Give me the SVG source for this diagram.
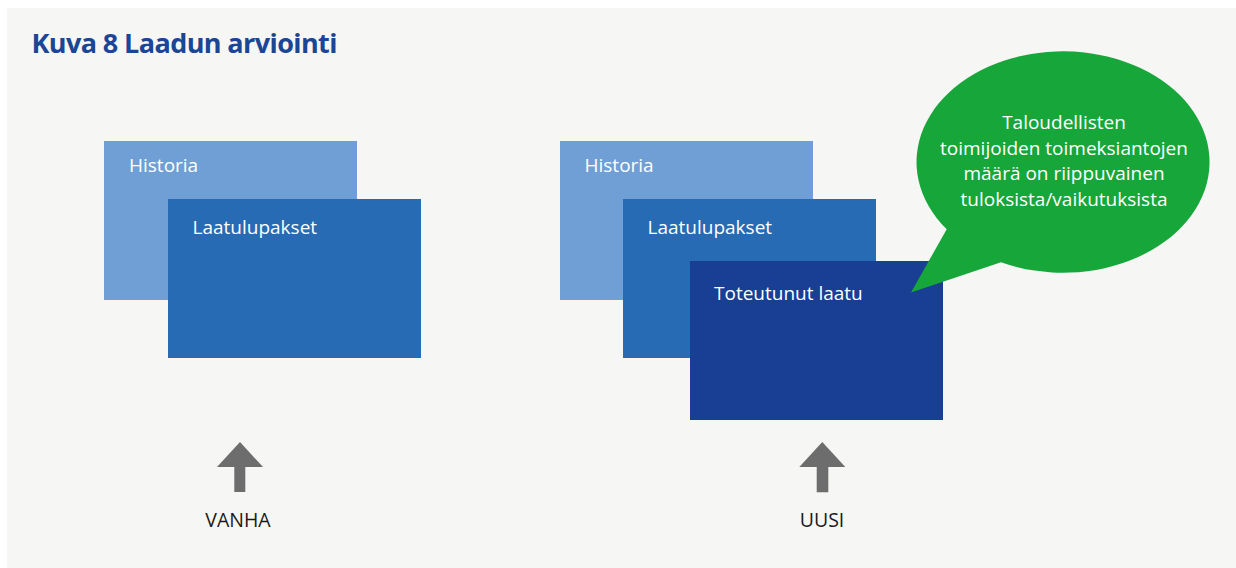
<svg xmlns="http://www.w3.org/2000/svg" width="1236" height="568" viewBox="0 0 1236 568">
<style>
.lbl{font-family:"Open Sans","Noto Sans",sans-serif;font-size:19px;fill:#ffffff}
.cap{font-family:"Open Sans","Noto Sans",sans-serif;font-size:19.5px;fill:#1a1a1a;text-anchor:middle}
.arrow{fill:#6d6d6d}
.b1{fill:#6f9fd4}
.b2{fill:#276bb4}
.b3{fill:#183f94}
</style>
<rect x="7" y="8" width="1229" height="560" fill="#f6f6f4"/>
<text x="31.5" y="52.5" font-family="Open Sans, Noto Sans, sans-serif" font-weight="bold" font-size="27" letter-spacing="-0.6" fill="#1b4595">Kuva 8 Laadun arviointi</text>
<g id="old-historia"><rect class="b1" x="104" y="141" width="253" height="159"/><text class="lbl" x="129" y="172">Historia</text></g>
<g id="old-laatulupakset"><rect class="b2" x="168" y="199" width="253" height="159"/><text class="lbl" x="192.5" y="234">Laatulupakset</text></g>
<g id="new-historia"><rect class="b1" x="560" y="141" width="253" height="159"/><text class="lbl" x="584.5" y="172">Historia</text></g>
<g id="new-laatulupakset"><rect class="b2" x="623" y="199" width="253" height="159"/><text class="lbl" x="647.5" y="234">Laatulupakset</text></g>
<g id="toteutunut"><rect class="b3" x="690" y="261" width="253" height="159"/><text class="lbl" x="714" y="300">Toteutunut laatu</text></g>
<g id="bubble">
<path fill="#17a63a" d="M946.7,229.3 L911,292.5 L1001,262.3 A146.5,110.7 0 1 0 946.7,229.3 Z"/>
<text class="lbl" text-anchor="middle" x="1064"><tspan x="1064" y="129">Taloudellisten</tspan><tspan x="1064" y="154.5">toimijoiden toimeksiantojen</tspan><tspan x="1064" y="180">määrä on riippuvainen</tspan><tspan x="1064" y="205.5">tuloksista/vaikutuksista</tspan></text>
</g>
<g id="connectors">
<path class="arrow" d="M240,442 L263,467 L245.3,467 L245.3,492 L234.3,492 L234.3,467 L217,467 Z"/>
<path class="arrow" d="M822.3,442 L845.3,467 L828.3,467 L828.3,492.3 L816.7,492.3 L816.7,467 L799.3,467 Z"/>
</g>
<g id="vanha"><text class="cap" x="238" y="527">VANHA</text></g>
<g id="uusi"><text class="cap" x="822" y="527">UUSI</text></g>
</svg>
